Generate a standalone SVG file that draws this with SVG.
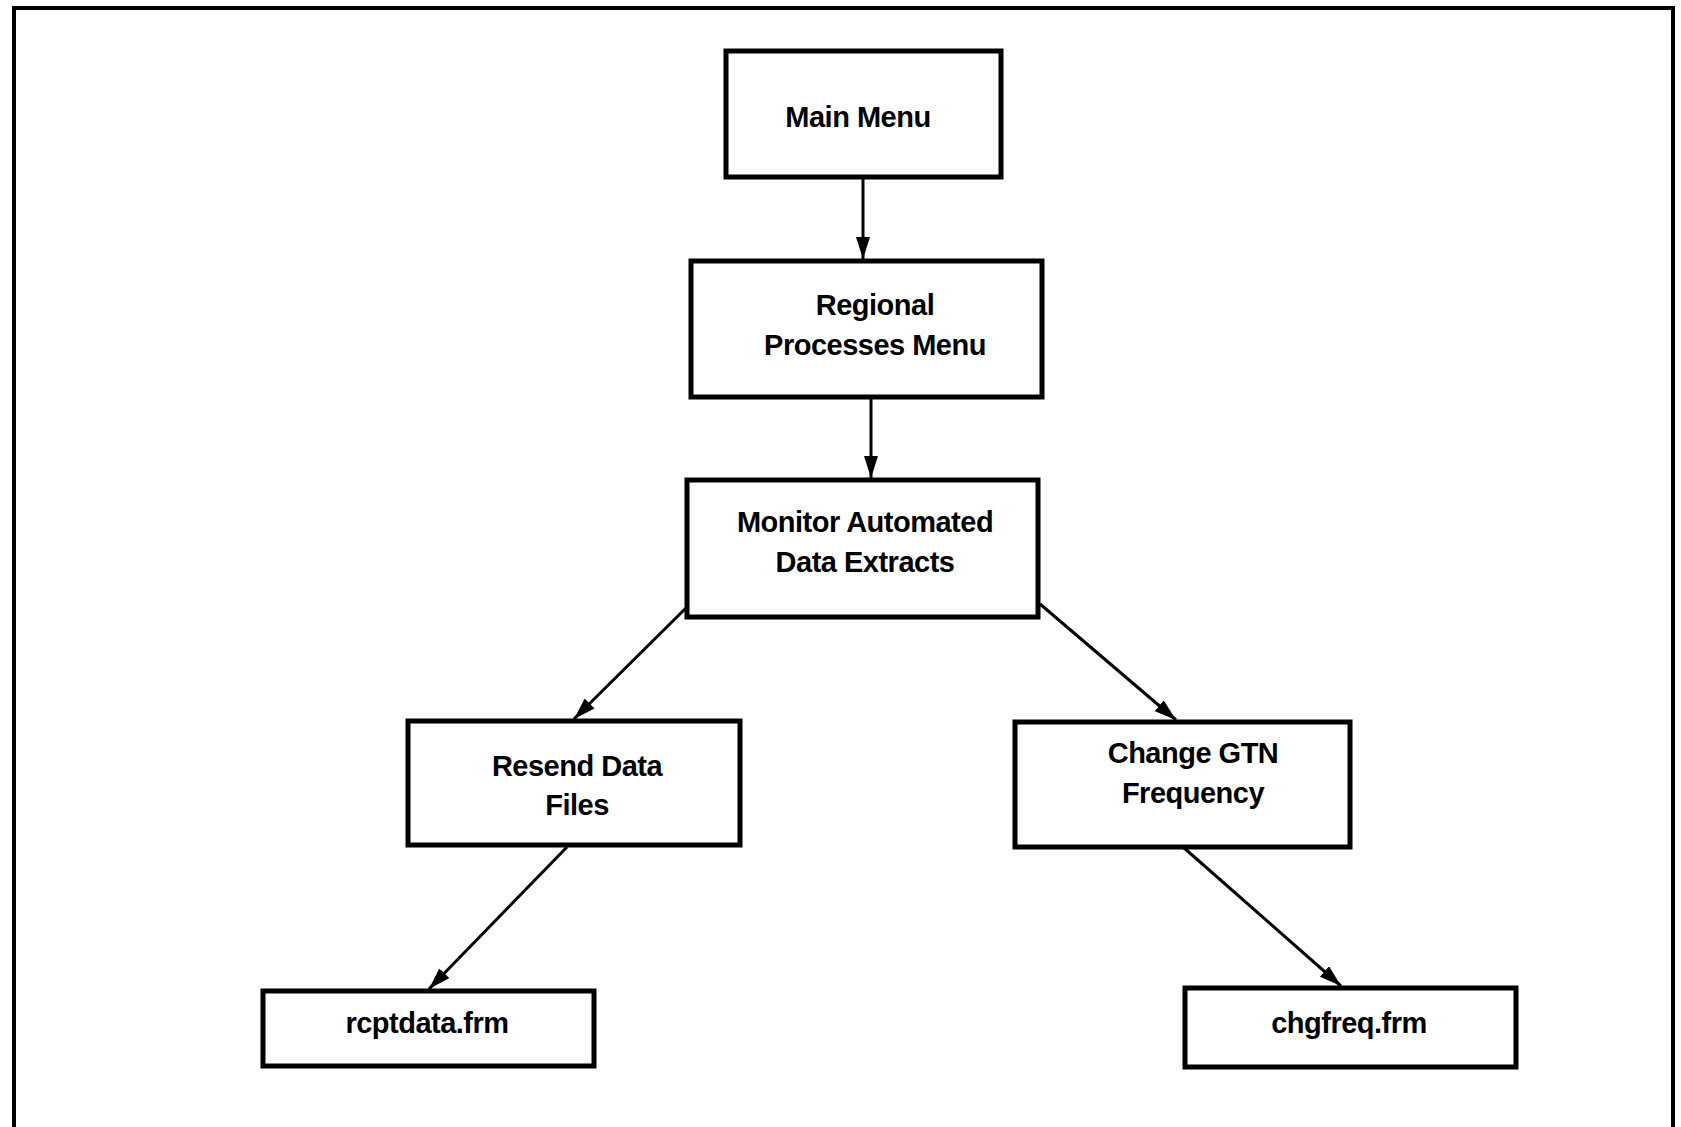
<svg xmlns="http://www.w3.org/2000/svg" width="1681" height="1127" viewBox="0 0 1681 1127">
<style>
.box{fill:#fff;stroke:#000;stroke-width:5}
.lbl{font-family:"Liberation Sans",Arial,sans-serif;font-weight:bold;font-size:29px;fill:#000;text-anchor:middle;letter-spacing:-0.5px}
.edge{stroke:#000;stroke-width:3;fill:none;marker-end:url(#ah)}
.frame{stroke:#000;stroke-width:4;fill:none}
</style>
<defs>
<marker id="ah" viewBox="0 0 22 14" refX="22" refY="7" markerWidth="22" markerHeight="14" markerUnits="userSpaceOnUse" orient="auto">
<path d="M0,0 L22,7 L0,14 z" fill="#000"/>
</marker>
</defs>
<rect width="1681" height="1127" fill="#fff"/>
<path class="frame" d="M14,1127 V8 H1673 V1127"/>
<g id="connectors">
<line class="edge" x1="863" y1="177" x2="863" y2="259"/>
<line class="edge" x1="871" y1="397" x2="871" y2="478"/>
<line class="edge" x1="686" y1="608" x2="574" y2="719"/>
<line class="edge" x1="1040" y1="604" x2="1176" y2="720"/>
<line class="edge" x1="567" y1="847" x2="429" y2="989"/>
<line class="edge" x1="1183" y1="847" x2="1341" y2="986"/>
</g>
<g id="main-menu">
<rect class="box" x="726" y="51" width="275" height="126"/>
<text class="lbl" x="858" y="127">Main Menu</text>
</g>
<g id="regional-processes-menu">
<rect class="box" x="691" y="261" width="351" height="136"/>
<text class="lbl" x="875" y="315">Regional</text>
<text class="lbl" x="875" y="355">Processes Menu</text>
</g>
<g id="monitor-automated-data-extracts">
<rect class="box" x="687" y="480" width="351" height="137"/>
<text class="lbl" x="865" y="532">Monitor Automated</text>
<text class="lbl" x="865" y="572">Data Extracts</text>
</g>
<g id="resend-data-files">
<rect class="box" x="408" y="721" width="332" height="124"/>
<text class="lbl" x="577" y="776">Resend Data</text>
<text class="lbl" x="577" y="815">Files</text>
</g>
<g id="change-gtn-frequency">
<rect class="box" x="1015" y="722" width="335" height="125"/>
<text class="lbl" x="1193" y="763">Change GTN</text>
<text class="lbl" x="1193" y="803">Frequency</text>
</g>
<g id="rcptdata-frm">
<rect class="box" x="263" y="991" width="331" height="75"/>
<text class="lbl" x="427" y="1033">rcptdata.frm</text>
</g>
<g id="chgfreq-frm">
<rect class="box" x="1185" y="988" width="331" height="79"/>
<text class="lbl" x="1349" y="1033">chgfreq.frm</text>
</g>
</svg>
